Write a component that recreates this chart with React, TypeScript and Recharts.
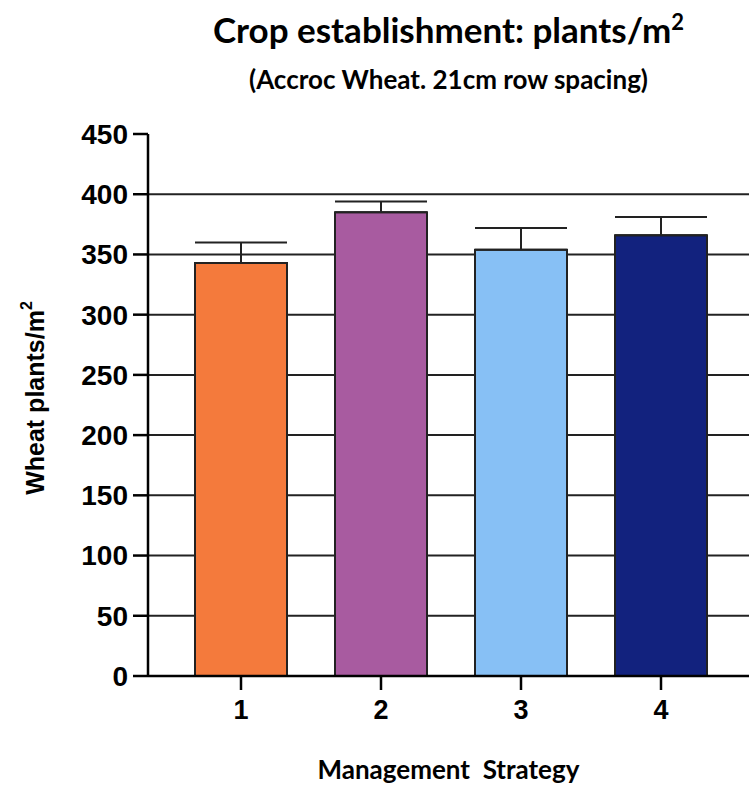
import React from 'react';
import { BarChart, Bar, XAxis, YAxis, CartesianGrid, ErrorBar, Cell } from 'recharts';

const strategies = ['1', '2', '3', '4'];
const plants = [343, 385, 354, 366];
const plantsErr = [17, 9, 18, 15];
const barColors = ['#F47A3C', '#A85BA0', '#87C0F5', '#12227E'];
const yTicks = [0, 50, 100, 150, 200, 250, 300, 350, 400, 450];
const gridValues = [50, 100, 150, 200, 250, 300, 350, 400];

const data = strategies.map((name, i) => ({
  name,
  value: plants[i],
  err: [0, plantsErr[i]],
}));

const axisFont = '"Liberation Sans", Arial, sans-serif';
const titleFont = 'Lato, "Open Sans", sans-serif';

const YLabel = () => (
  <text
    x={0}
    y={0}
    transform="translate(44, 398) rotate(-90)"
    textAnchor="middle"
    fontFamily={axisFont}
    fontWeight="bold"
    fontSize={25}
    fill="#000"
  >
    Wheat plants/m
    <tspan fontSize={16} dy={-12}>2</tspan>
  </text>
);

export default function App() {
  return (
    <div style={{ position: 'absolute', left: 0, top: 0, width: 749, height: 786, background: '#fff' }}>
      <div
        style={{
          position: 'absolute',
          left: 148,
          width: 601,
          top: 8,
          textAlign: 'center',
          fontFamily: titleFont,
          fontWeight: 700,
          fontSize: 35,
          color: '#000',
        }}
      >
        Crop establishment: plants/m<sup style={{ fontSize: 22 }}>2</sup>
      </div>
      <div
        style={{
          position: 'absolute',
          left: 148,
          width: 601,
          top: 63,
          textAlign: 'center',
          fontFamily: titleFont,
          fontWeight: 700,
          fontSize: 26,
          color: '#000',
        }}
      >
        (Accroc Wheat. 21cm row spacing)
      </div>
      <div
        style={{
          position: 'absolute',
          left: 148,
          width: 601,
          top: 753,
          textAlign: 'center',
          fontFamily: titleFont,
          fontWeight: 700,
          fontSize: 26,
          whiteSpace: 'pre',
          color: '#000',
        }}
      >
        {'Management  Strategy'}
      </div>
      <BarChart
        width={749}
        height={786}
        data={data}
        margin={{ top: 134, right: 0, left: 0, bottom: 50 }}
        style={{ position: 'absolute', left: 0, top: 0 }}
      >
        <CartesianGrid
          vertical={false}
          horizontalValues={gridValues}
          stroke="#222"
          strokeWidth={2}
        />
        <XAxis
          dataKey="name"
          height={60}
          padding={{ left: 23, right: 18 }}
          axisLine={{ stroke: '#000', strokeWidth: 2.5 }}
          tickLine={{ stroke: '#000', strokeWidth: 2.5 }}
          tickSize={14}
          tickMargin={10}
          tick={{ fill: '#000', fontFamily: axisFont, fontWeight: 'bold', fontSize: 27 }}
        />
        <YAxis
          width={148}
          domain={[0, 450]}
          ticks={yTicks}
          interval={0}
          axisLine={{ stroke: '#000', strokeWidth: 2.5 }}
          tickLine={{ stroke: '#000', strokeWidth: 2.5 }}
          tickSize={15}
          tickMargin={5}
          tick={{ fill: '#000', fontFamily: axisFont, fontWeight: 'bold', fontSize: 28 }}
          label={<YLabel />}
        />
        <Bar dataKey="value" barSize={92} stroke="#222" strokeWidth={2} isAnimationActive={false}>
          {data.map((d, i) => (
            <Cell key={d.name} fill={barColors[i]} />
          ))}
          <ErrorBar dataKey="err" width={46} stroke="#222" strokeWidth={2} direction="y" />
        </Bar>
      </BarChart>
    </div>
  );
}
